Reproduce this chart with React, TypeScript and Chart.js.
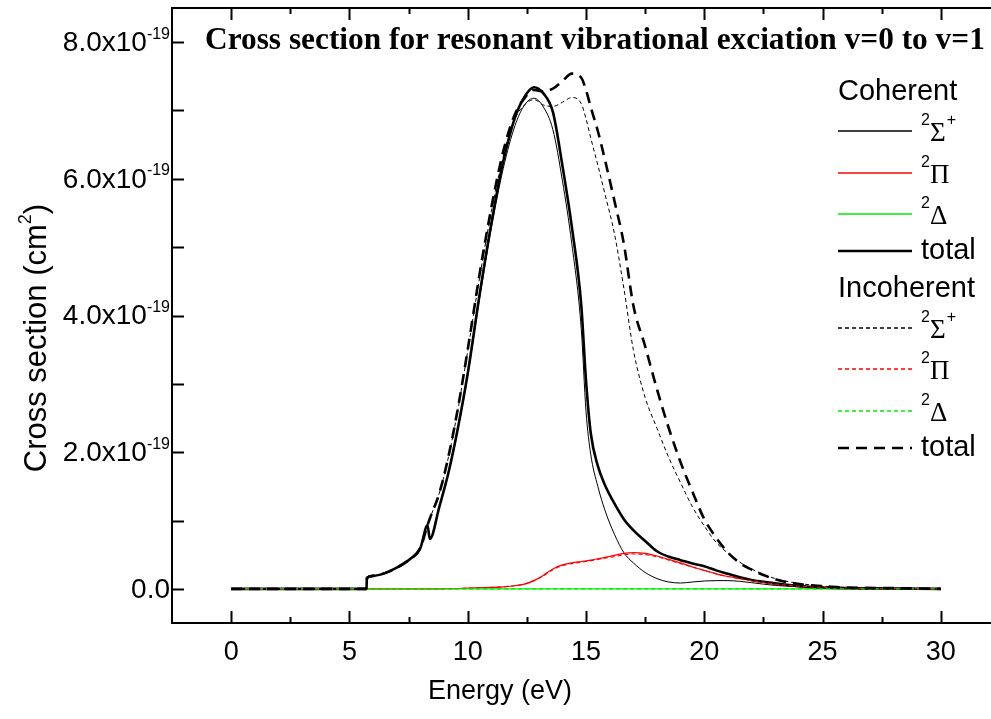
import React, { useEffect, useRef } from "react";
import { Chart, registerables } from "chart.js";

Chart.register(...registerables);

// Energy grid (eV)
const energy = [0, 5.72, 5.74, 6, 6.5, 7, 7.5, 8, 8.3, 8.4, 8.8, 9.2, 9.6, 10, 10.5, 11, 11.5, 12, 12.4, 12.8, 13.2, 13.6, 14, 14.4, 14.8, 15, 15.2, 15.5, 15.8, 16.2, 16.6, 17, 17.5, 18, 18.5, 19, 19.5, 20, 20.5, 21, 21.5, 22, 23, 24, 25, 26, 28, 30];

// Cross sections in units of 1e-19 cm^2
const cohSigma = [0, 0, 0.16, 0.19, 0.23, 0.31, 0.42, 0.6, 0.93, 0.73, 1.2, 1.71, 2.36, 3.12, 4.25, 5.28, 6.15, 6.78, 7.08, 7.18, 7.05, 6.72, 5.98, 5.05, 3.8, 2.6, 1.97, 1.5, 1.15, 0.8, 0.53, 0.38, 0.24, 0.15, 0.1, 0.085, 0.1, 0.115, 0.12, 0.12, 0.11, 0.09, 0.05, 0.03, 0.01, 0.005, 0, 0];
const cohPi = [0, 0, 0, 0, 0, 0, 0, 0, 0, 0, 0, 0.002, 0.005, 0.01, 0.015, 0.02, 0.03, 0.045, 0.07, 0.12, 0.2, 0.29, 0.35, 0.38, 0.4, 0.41, 0.42, 0.44, 0.46, 0.49, 0.52, 0.53, 0.52, 0.48, 0.43, 0.38, 0.32, 0.27, 0.22, 0.18, 0.15, 0.12, 0.07, 0.04, 0.02, 0.01, 0.005, 0];
const cohDelta = [0, 0, 0, 0, 0, 0, 0, 0, 0, 0, 0, 0, 0, 0, 0, 0, 0, 0, 0, 0, 0, 0, 0, 0, 0, 0, 0, 0, 0, 0, 0, 0, 0, 0, 0, 0, 0, 0, 0, 0, 0, 0, 0, 0, 0, 0, 0, 0];
const cohTotal = [0, 0, 0.16, 0.19, 0.23, 0.31, 0.42, 0.6, 0.93, 0.73, 1.2, 1.72, 2.38, 3.15, 4.3, 5.35, 6.25, 6.9, 7.2, 7.34, 7.25, 6.98, 6.2, 5.3, 4.15, 3.05, 2.28, 1.8, 1.52, 1.25, 1.02, 0.86, 0.7, 0.55, 0.47, 0.42, 0.37, 0.33, 0.27, 0.22, 0.17, 0.13, 0.08, 0.04, 0.02, 0.01, 0.005, 0];
const incSigma = [0, 0, 0.16, 0.19, 0.23, 0.31, 0.42, 0.6, 0.93, 1.03, 1.4, 1.95, 2.65, 3.48, 4.55, 5.52, 6.32, 6.88, 7.08, 7.16, 7.08, 7.06, 7.12, 7.19, 7.1, 6.88, 6.6, 6.2, 5.78, 5.2, 4.4, 3.5, 2.8, 2.35, 1.92, 1.55, 1.2, 0.92, 0.68, 0.52, 0.39, 0.29, 0.15, 0.08, 0.04, 0.02, 0.01, 0];
const incPi = [0, 0, 0, 0, 0, 0, 0, 0, 0, 0, 0, 0.002, 0.005, 0.01, 0.015, 0.02, 0.03, 0.045, 0.07, 0.12, 0.19, 0.28, 0.34, 0.37, 0.39, 0.4, 0.41, 0.43, 0.45, 0.47, 0.5, 0.51, 0.5, 0.47, 0.42, 0.37, 0.32, 0.27, 0.22, 0.18, 0.15, 0.12, 0.07, 0.04, 0.02, 0.01, 0.005, 0];
const incDelta = [0, 0, 0, 0, 0, 0, 0, 0, 0, 0, 0, 0, 0, 0, 0, 0, 0, 0, 0, 0, 0, 0, 0, 0, 0, 0, 0, 0, 0, 0, 0, 0, 0, 0, 0, 0, 0, 0, 0, 0, 0, 0, 0, 0, 0, 0, 0, 0];
const incTotal = [0, 0, 0.16, 0.19, 0.23, 0.31, 0.42, 0.6, 0.93, 1.03, 1.4, 1.96, 2.67, 3.5, 4.6, 5.58, 6.4, 6.95, 7.18, 7.3, 7.28, 7.32, 7.43, 7.54, 7.48, 7.3, 7.05, 6.7, 6.28, 5.68, 5.05, 4.15, 3.55, 2.92, 2.35, 1.85, 1.42, 1.02, 0.75, 0.53, 0.38, 0.28, 0.14, 0.07, 0.04, 0.02, 0.01, 0];

// Axes
const xMajorTicks = [0, 5, 10, 15, 20, 25, 30];
const xMinorTicks = [2.5, 7.5, 12.5, 17.5, 22.5, 27.5];
const yMajorTicks = [0, 2, 4, 6, 8];
const yMinorTicks = [1, 3, 5, 7];
const yTickMain = ["0.0", "2.0x10", "4.0x10", "6.0x10", "8.0x10"];
const yTickSup = ["", "-19", "-19", "-19", "-19"];

const titleText = "Cross section for resonant vibrational exciation v=0 to v=1";
const xTitle = "Energy (eV)";
const yTitleMain = "Cross section (cm";
const yTitleSup = "2";
const yTitleEnd = ")";

const BLACK = "#000000";
const RED = "#ff0000";
const GREEN = "#00ee00";
const SANS = "'Liberation Sans', Arial, sans-serif";
const SERIF = "'Liberation Serif', 'Times New Roman', serif";

type Series = {
  name: string;
  group: string;
  symbol: string;
  values: number[];
  color: string;
  width: number;
  dash: number[];
};

const series: Series[] = [
  { name: "cohSigma", group: "Coherent", symbol: "Σ", values: cohSigma, color: BLACK, width: 1, dash: [] },
  { name: "cohPi", group: "Coherent", symbol: "Π", values: cohPi, color: RED, width: 1.2, dash: [] },
  { name: "cohDelta", group: "Coherent", symbol: "Δ", values: cohDelta, color: GREEN, width: 1.2, dash: [] },
  { name: "cohTotal", group: "Coherent", symbol: "total", values: cohTotal, color: BLACK, width: 2.6, dash: [] },
  { name: "incSigma", group: "Incoherent", symbol: "Σ", values: incSigma, color: BLACK, width: 1, dash: [4, 3] },
  { name: "incPi", group: "Incoherent", symbol: "Π", values: incPi, color: RED, width: 1.2, dash: [4, 3] },
  { name: "incDelta", group: "Incoherent", symbol: "Δ", values: incDelta, color: GREEN, width: 1.2, dash: [4, 3] },
  { name: "incTotal", group: "Incoherent", symbol: "total", values: incTotal, color: BLACK, width: 2.6, dash: [11, 7] },
];

const legendRows: { kind: "head" | "item"; text: string; y: number; idx?: number }[] = [
  { kind: "head", text: "Coherent", y: 92 },
  { kind: "item", text: "Σ", y: 131, idx: 0 },
  { kind: "item", text: "Π", y: 173, idx: 1 },
  { kind: "item", text: "Δ", y: 214, idx: 2 },
  { kind: "item", text: "total", y: 251, idx: 3 },
  { kind: "head", text: "Incoherent", y: 289 },
  { kind: "item", text: "Σ", y: 328, idx: 4 },
  { kind: "item", text: "Π", y: 369, idx: 5 },
  { kind: "item", text: "Δ", y: 411, idx: 6 },
  { kind: "item", text: "total", y: 448, idx: 7 },
];

const framePlugin = {
  id: "frameAndText",
  beforeDatasetsDraw(chart: any) {
    const { ctx, chartArea: ca, scales } = chart;
    const xs = scales.x;
    const ys = scales.y;
    ctx.save();
    ctx.strokeStyle = BLACK;
    ctx.lineWidth = 2;
    ctx.lineCap = "butt";
    ctx.beginPath();
    ctx.moveTo(ca.left, ca.top - 1);
    ctx.lineTo(ca.left, ca.bottom + 1);
    ctx.moveTo(ca.left - 1, ca.bottom);
    ctx.lineTo(ca.right, ca.bottom);
    ctx.moveTo(ca.left - 1, ca.top);
    ctx.lineTo(ca.right, ca.top);
    ctx.stroke();
    ctx.beginPath();
    xMajorTicks.forEach((v) => {
      const px = Math.round(xs.getPixelForValue(v)) + 0.5;
      ctx.moveTo(px, ca.bottom);
      ctx.lineTo(px, ca.bottom - 12);
      ctx.moveTo(px, ca.top);
      ctx.lineTo(px, ca.top + 12);
    });
    xMinorTicks.forEach((v) => {
      const px = Math.round(xs.getPixelForValue(v)) + 0.5;
      ctx.moveTo(px, ca.bottom);
      ctx.lineTo(px, ca.bottom - 6);
      ctx.moveTo(px, ca.top);
      ctx.lineTo(px, ca.top + 6);
    });
    [...yMajorTicks, ...yMinorTicks].forEach((v) => {
      const py = Math.round(ys.getPixelForValue(v)) + 0.5;
      ctx.moveTo(ca.left, py);
      ctx.lineTo(ca.left + 12, py);
    });
    ctx.stroke();
    ctx.restore();
  },
  afterDraw(chart: any) {
    const { ctx, scales } = chart;
    const ys = scales.y;
    ctx.save();
    ctx.fillStyle = BLACK;

    // y tick labels
    const labelRight = 170;
    yMajorTicks.forEach((v, i) => {
      const py = ys.getPixelForValue(v);
      ctx.font = `16px ${SANS}`;
      const supW = yTickSup[i] ? ctx.measureText(yTickSup[i]).width : 0;
      ctx.textAlign = "right";
      ctx.textBaseline = "middle";
      ctx.font = `28px ${SANS}`;
      ctx.fillText(yTickMain[i], labelRight - supW, py + 1);
      if (yTickSup[i]) {
        ctx.font = `16px ${SANS}`;
        ctx.textAlign = "left";
        ctx.fillText(yTickSup[i], labelRight - supW, py - 8);
      }
    });

    // x title
    ctx.font = `27px ${SANS}`;
    ctx.textAlign = "center";
    ctx.textBaseline = "middle";
    ctx.fillText(xTitle, 500, 692);

    // y title (rotated)
    ctx.save();
    ctx.translate(37, 338);
    ctx.rotate(-Math.PI / 2);
    ctx.font = `31px ${SANS}`;
    const w1 = ctx.measureText(yTitleMain).width;
    ctx.font = `18px ${SANS}`;
    const w2 = ctx.measureText(yTitleSup).width;
    ctx.font = `31px ${SANS}`;
    const w3 = ctx.measureText(yTitleEnd).width;
    const tw = w1 + w2 + w3;
    let cx = -tw / 2;
    ctx.textAlign = "left";
    ctx.textBaseline = "middle";
    ctx.fillText(yTitleMain, cx, 0);
    cx += w1;
    ctx.font = `18px ${SANS}`;
    ctx.fillText(yTitleSup, cx, -11);
    cx += w2;
    ctx.font = `31px ${SANS}`;
    ctx.fillText(yTitleEnd, cx, 0);
    ctx.restore();

    // Title
    ctx.font = `bold 26px ${SERIF}`;
    const tW = ctx.measureText(titleText).width;
    const fs = (26 * 780) / tW;
    ctx.font = `bold ${fs.toFixed(2)}px ${SERIF}`;
    ctx.textAlign = "left";
    ctx.textBaseline = "middle";
    ctx.fillText(titleText, 205, 41);

    // Legend
    const lx0 = 838;
    const lx1 = 912;
    const tx = 921;
    legendRows.forEach((row) => {
      if (row.kind === "head") {
        ctx.font = `29px ${SANS}`;
        ctx.textAlign = "left";
        ctx.textBaseline = "middle";
        ctx.fillStyle = BLACK;
        ctx.fillText(row.text, 838, row.y);
        return;
      }
      const s = series[row.idx as number];
      ctx.save();
      ctx.strokeStyle = s.color;
      ctx.lineWidth = s.width < 2 ? 1.5 : s.width;
      ctx.setLineDash(s.dash);
      ctx.beginPath();
      ctx.moveTo(lx0, row.y);
      ctx.lineTo(lx1, row.y);
      ctx.stroke();
      ctx.restore();
      ctx.fillStyle = BLACK;
      ctx.textAlign = "left";
      ctx.textBaseline = "middle";
      if (row.text === "total") {
        ctx.font = `29px ${SANS}`;
        ctx.fillText("total", tx, row.y);
      } else {
        ctx.font = `16px ${SANS}`;
        ctx.fillText("2", tx, row.y - 10);
        ctx.font = `27px ${SERIF}`;
        ctx.fillText(row.text, tx + 9, row.y + 3);
        if (row.text === "Σ") {
          const gw = ctx.measureText("Σ").width;
          ctx.font = `16px ${SANS}`;
          ctx.fillText("+", tx + 9 + gw + 1, row.y - 10);
        }
      }
    });
    ctx.restore();
  },
};

export default function App() {
  const canvasRef = useRef<HTMLCanvasElement | null>(null);

  useEffect(() => {
    document.body.style.margin = "0";
    const canvas = canvasRef.current;
    if (!canvas) return;
    // draw order: first dataset is drawn on top
    const ordered = [...series].reverse();
    const chart = new Chart(canvas, {
      type: "line",
      data: {
        datasets: ordered.map((s) => ({
          label: s.group + " " + s.symbol,
          data: energy.map((e, i) => ({ x: e, y: s.values[i] })),
          borderColor: s.color,
          borderWidth: s.width,
          borderDash: s.dash,
          pointRadius: 0,
          pointHoverRadius: 0,
          fill: false,
          cubicInterpolationMode: "monotone" as const,
        })),
      },
      options: {
        responsive: false,
        animation: false,
        devicePixelRatio: 1,
        layout: { padding: { top: 8, right: 10, left: 0, bottom: 0 } },
        plugins: {
          legend: { display: false },
          tooltip: { enabled: false },
          title: { display: false },
        },
        events: [],
        scales: {
          x: {
            type: "linear",
            min: -2.5,
            max: 32.5,
            grid: { display: false, drawTicks: false, tickLength: 0 },
            border: { display: false },
            afterBuildTicks: (scale: any) => {
              scale.ticks = xMajorTicks.map((v) => ({ value: v }));
            },
            afterFit: (scale: any) => {
              scale.height = 96;
            },
            ticks: {
              color: BLACK,
              font: { family: SANS, size: 27 },
              padding: 13,
              maxRotation: 0,
              autoSkip: false,
              callback: (v: any) => String(v),
            },
          },
          y: {
            type: "linear",
            min: -0.5,
            max: 8.5,
            grid: { display: false, drawTicks: false, tickLength: 0 },
            border: { display: false },
            ticks: { display: false },
            afterFit: (scale: any) => {
              scale.width = 172;
            },
          },
        },
      },
      plugins: [framePlugin],
    } as any);
    return () => chart.destroy();
  }, []);

  return (
    <div style={{ width: 991, height: 719, overflow: "hidden", background: "#fff" }}>
      <canvas ref={canvasRef} width={1010} height={719} style={{ display: "block" }} />
    </div>
  );
}
